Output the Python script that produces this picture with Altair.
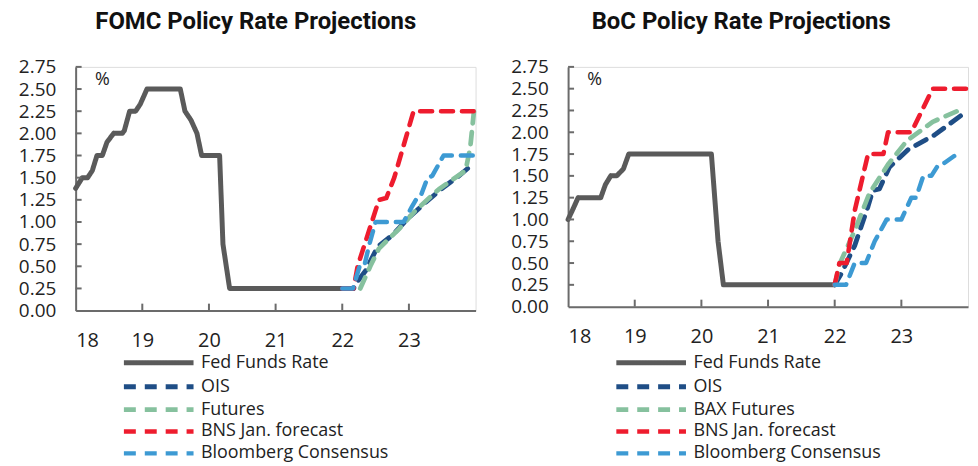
import altair as alt
import pandas as pd

# ---------------- data ----------------
series_fomc = ["Fed Funds Rate", "OIS", "Futures", "BNS Jan. forecast", "Bloomberg Consensus"]
series_boc = ["Fed Funds Rate", "OIS", "BAX Futures", "BNS Jan. forecast", "Bloomberg Consensus"]
colors = ["#5a5a5a", "#1f4e86", "#86c19e", "#ee1c2e", "#3d9ad3"]

# FOMC panel
fomc_ffr_x = [18.0, 18.1, 18.18, 18.25, 18.32, 18.4, 18.47, 18.57, 18.7, 18.73, 18.81, 18.9, 18.97, 19.07, 19.57, 19.64, 19.73, 19.82, 19.89, 20.16, 20.21, 20.31, 22.0]
fomc_ffr_y = [1.38, 1.5, 1.5, 1.58, 1.75, 1.75, 1.9, 2.0, 2.0, 2.03, 2.25, 2.25, 2.33, 2.5, 2.5, 2.25, 2.15, 2.0, 1.75, 1.75, 0.75, 0.25, 0.25]
fomc_ois_x = [22.0, 22.17, 22.23, 22.35, 22.53, 22.75, 23.0, 23.25, 23.5, 23.75, 23.97]
fomc_ois_y = [0.25, 0.25, 0.33, 0.45, 0.72, 0.85, 1.05, 1.22, 1.38, 1.52, 1.66]
fomc_fut_x = [22.27, 22.42, 22.55, 22.85, 23.1, 23.45, 23.85, 23.92, 23.98]
fomc_fut_y = [0.25, 0.5, 0.7, 0.92, 1.13, 1.37, 1.58, 1.84, 2.28]
fomc_bns_x = [22.0, 22.17, 22.23, 22.55, 22.66, 22.78, 23.07, 23.97]
fomc_bns_y = [0.25, 0.25, 0.5, 1.25, 1.27, 1.5, 2.25, 2.25]
fomc_bbg_x = [22.0, 22.16, 22.26, 22.33, 22.4, 22.5, 22.92, 23.05, 23.12, 23.18, 23.28, 23.35, 23.52, 23.97]
fomc_bbg_y = [0.25, 0.25, 0.5, 0.5, 0.73, 1.0, 1.0, 1.18, 1.27, 1.3, 1.5, 1.52, 1.75, 1.75]

# BoC panel
boc_ffr_x = [18.0, 18.08, 18.15, 18.49, 18.56, 18.64, 18.73, 18.83, 18.91, 20.15, 20.25, 20.33, 22.0]
boc_ffr_y = [1.0, 1.13, 1.25, 1.25, 1.4, 1.5, 1.5, 1.58, 1.75, 1.75, 0.75, 0.25, 0.25]
boc_ois_x = [22.0, 22.1, 22.3, 22.5, 22.57, 22.67, 22.82, 23.1, 23.5, 23.98]
boc_ois_y = [0.25, 0.38, 0.7, 1.15, 1.33, 1.35, 1.6, 1.8, 1.97, 2.24]
boc_bax_x = [22.0, 22.08, 22.3, 22.52, 22.8, 23.08, 23.47, 23.92]
boc_bax_y = [0.25, 0.5, 0.87, 1.3, 1.63, 1.9, 2.12, 2.27]
boc_bns_x = [22.0, 22.07, 22.18, 22.3, 22.5, 22.73, 22.8, 23.15, 23.47, 23.98]
boc_bns_y = [0.25, 0.5, 0.5, 1.1, 1.75, 1.75, 2.0, 2.0, 2.5, 2.5]
boc_bbg_x = [22.0, 22.17, 22.3, 22.47, 22.6, 22.78, 23.0, 23.15, 23.22, 23.33, 23.45, 23.55, 23.65, 23.87]
boc_bbg_y = [0.25, 0.25, 0.5, 0.5, 0.75, 1.0, 1.0, 1.25, 1.25, 1.5, 1.5, 1.62, 1.65, 1.77]

y_tick_values = [0.0, 0.25, 0.5, 0.75, 1.0, 1.25, 1.5, 1.75, 2.0, 2.25, 2.5, 2.75]
x_tick_values = [18, 19, 20, 21, 22, 23]
unit_label = "%"

FONT = "Open Sans"
AXIS_GRAY = "#6b6b6b"
TEXT = "#222222"
dashes = [[1, 0], [12, 9], [12, 9], [12, 9], [12, 9]]
widths = [5, 4.5, 4.5, 4.5, 4.5]


def build_df(names, xs_list, ys_list):
    rows = []
    for i, (name, xs, ys) in enumerate(zip(names, xs_list, ys_list)):
        for j, (x, y) in enumerate(zip(xs, ys)):
            rows.append({"series": name, "order": i, "idx": j, "x": x, "y": y})
    return pd.DataFrame(rows)


def panel(title, names, xs_list, ys_list, height, dx, legend_y):
    df = build_df(names, xs_list, ys_list)
    xscale = alt.Scale(domain=[18, 24], nice=False, zero=False)
    yscale = alt.Scale(domain=[0, 2.75], nice=False)
    xaxis = alt.Axis(values=x_tick_values, format="d", title=None, grid=False,
                     ticks=False, labelPadding=20, domainColor=AXIS_GRAY, domainWidth=2,
                     labelFont=FONT, labelFontSize=20, labelColor=TEXT, labelOverlap=False)
    yaxis = alt.Axis(values=y_tick_values, format=".2f", title=None, grid=False,
                     ticks=False, labelPadding=20, domainColor=AXIS_GRAY, domainWidth=2,
                     labelFont=FONT, labelFontSize=19, labelColor=TEXT,
                     labelOverlap=False, labelBound=False, labelFlush=False,
                     minExtent=67, maxExtent=67)
    leg = alt.Legend(
        title=None, orient="none", legendX=48 + 26, legendY=legend_y, direction="vertical",
        symbolType="M-5,0H5", symbolSize=196, labelFont=FONT, labelFontSize=18,
        labelColor=TEXT, labelOffset=33, labelLimit=400, rowPadding=3, padding=0,
    )
    lines = alt.Chart(df).mark_line(strokeCap="round", strokeJoin="round").encode(
        x=alt.X("x:Q", scale=xscale, axis=xaxis),
        y=alt.Y("y:Q", scale=yscale, axis=yaxis),
        color=alt.Color("series:N", sort=names, scale=alt.Scale(domain=names, range=colors), legend=leg),
        strokeDash=alt.StrokeDash("series:N", sort=names, scale=alt.Scale(domain=names, range=dashes), legend=leg),
        strokeWidth=alt.StrokeWidth("series:N", sort=names, scale=alt.Scale(domain=names, range=widths), legend=leg),
        order="idx:Q",
        detail="series:N",
    )
    ytick_df = pd.DataFrame({"y": y_tick_values[1:]})
    yticks = alt.Chart(ytick_df).mark_rule(color=AXIS_GRAY, strokeWidth=2).encode(
        y=alt.Y("y:Q", scale=yscale, axis=yaxis), x=alt.value(0), x2=alt.value(6)
    )
    xtick_df = pd.DataFrame({"x": x_tick_values[1:]})
    xticks = alt.Chart(xtick_df).mark_rule(color=AXIS_GRAY, strokeWidth=2).encode(
        x=alt.X("x:Q", scale=xscale, axis=xaxis), y=alt.value(height), y2=alt.value(height - 7)
    )
    unit_df = pd.DataFrame({"x": [18.4], "y": [2.6], "t": [unit_label]})
    unit = alt.Chart(unit_df).mark_text(font=FONT, fontSize=18, color=TEXT,
                                        align="center", baseline="middle").encode(
        x=alt.X("x:Q", scale=xscale, axis=xaxis), y=alt.Y("y:Q", scale=yscale, axis=yaxis), text="t:N"
    )
    return alt.layer(lines, yticks, xticks, unit).properties(
        width=402, height=height,
        title=alt.TitleParams(title, font="Roboto", fontSize=24, fontWeight="bold", color="#111111",
                              anchor="middle", dx=dx, offset=24),
    )


left = panel("FOMC Policy Rate Projections", series_fomc,
             [fomc_ffr_x, fomc_ois_x, fomc_fut_x, fomc_bns_x, fomc_bbg_x],
             [fomc_ffr_y, fomc_ois_y, fomc_fut_y, fomc_bns_y, fomc_bbg_y], 245, -20, 288)
right = panel("BoC Policy Rate Projections", series_boc,
              [boc_ffr_x, boc_ois_x, boc_bax_x, boc_bns_x, boc_bbg_x],
              [boc_ffr_y, boc_ois_y, boc_bax_y, boc_bns_y, boc_bbg_y], 241, -27, 288)

chart = alt.hconcat(left, right, spacing=23).resolve_scale(
    color="independent", strokeDash="independent", strokeWidth="independent"
).properties(padding=0).configure_view(stroke=None).configure(background="white")

chart.save("out.html", embed_options={"renderer": "svg", "actions": False})
